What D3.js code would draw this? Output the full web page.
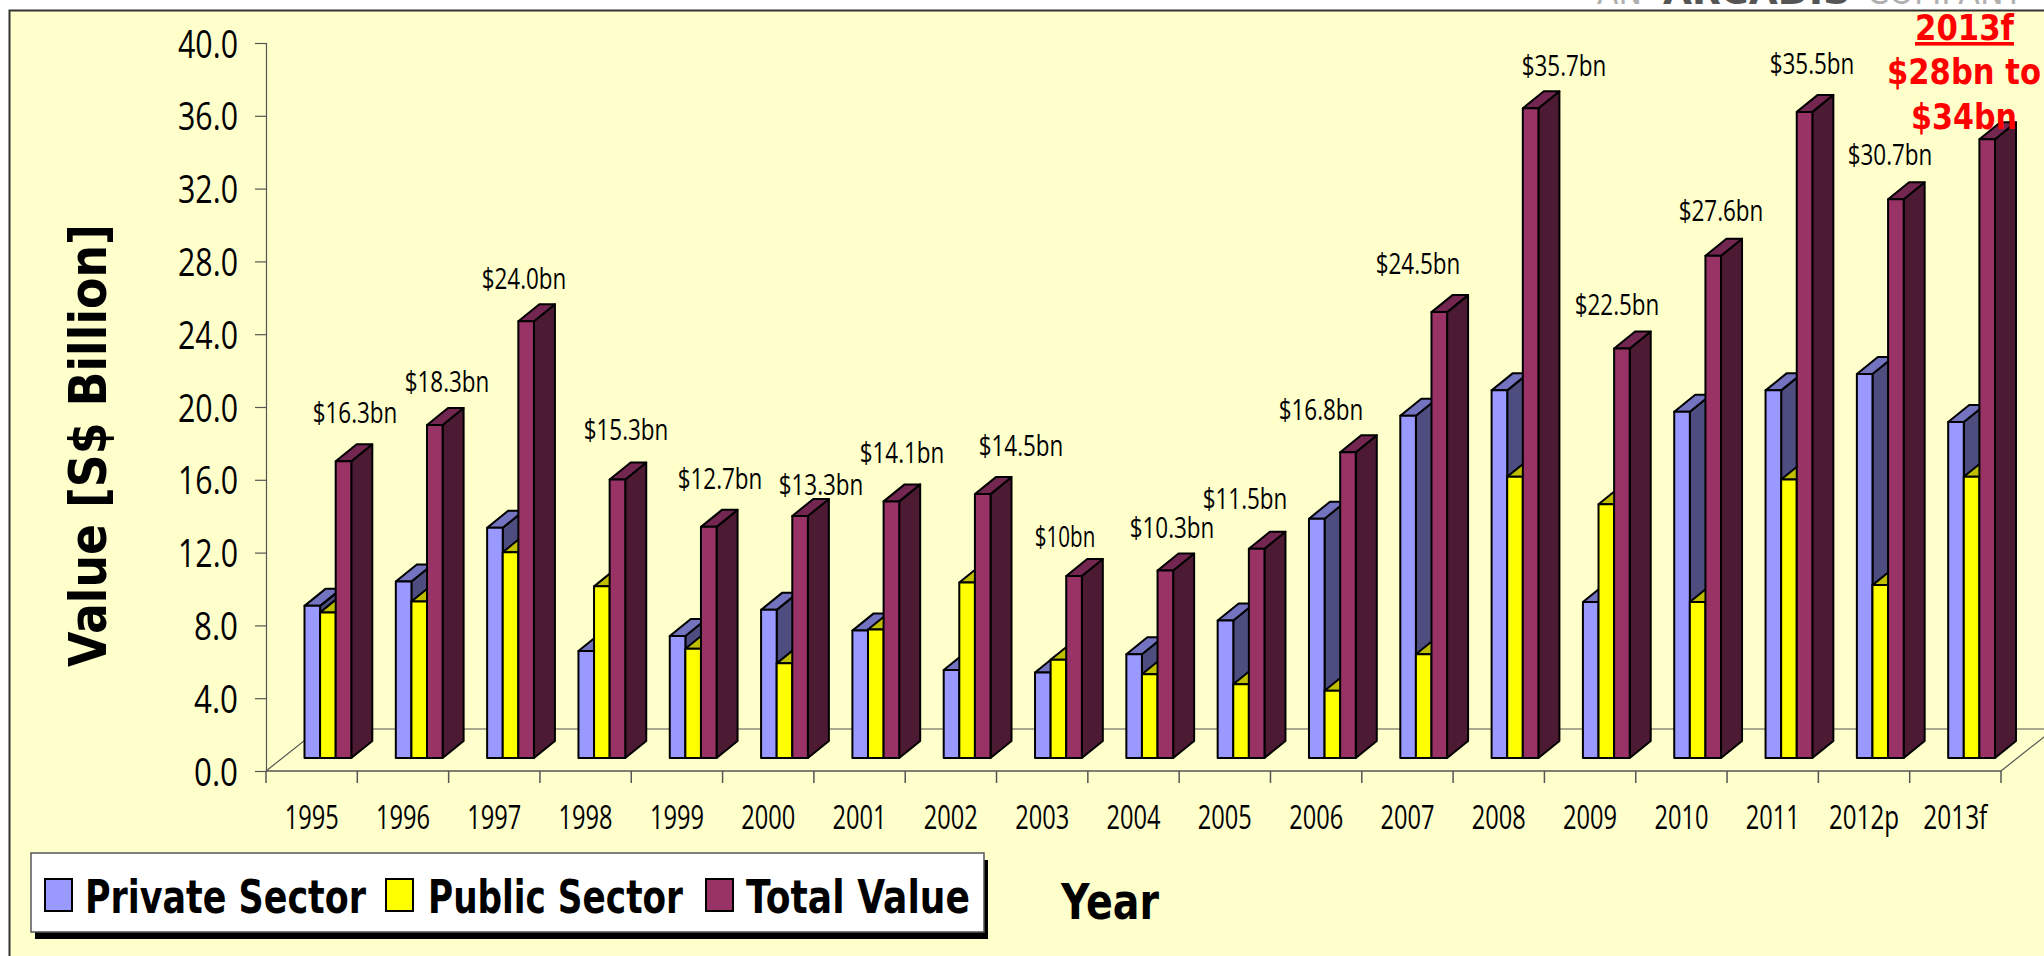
<!DOCTYPE html>
<html><head><meta charset="utf-8">
<style>html,body{margin:0;padding:0;background:#fff}svg{display:block}</style>
<script src="https://d3js.org/d3.v7.min.js"></script></head>
<body><svg id="c" width="2044" height="956"></svg>
<script>
const categories=["1995","1996","1997","1998","1999","2000","2001","2002","2003","2004","2005","2006","2007","2008","2009","2010","2011","2012p","2013f"];
const privateSector=[8.36,9.7,12.65,5.88,6.7,8.14,7.0,4.84,4.7,5.7,7.56,13.15,18.8,20.2,8.57,19.03,20.2,21.1,18.46];
const publicSector=[8.0,8.6,11.3,9.43,6.0,5.2,7.06,9.64,5.4,4.6,4.05,3.7,5.7,15.45,13.94,8.57,15.3,9.5,15.45];
const totalValue=[16.3,18.3,24.0,15.3,12.7,13.3,14.1,14.5,10,10.3,11.5,16.8,24.5,35.7,22.5,27.6,35.5,30.7,34];
const valueLabels=["$16.3bn","$18.3bn","$24.0bn","$15.3bn","$12.7bn","$13.3bn","$14.1bn","$14.5bn","$10bn","$10.3bn","$11.5bn","$16.8bn","$24.5bn","$35.7bn","$22.5bn","$27.6bn","$35.5bn","$30.7bn"];
const yTicks=[0,4,8,12,16,20,24,28,32,36,40];
const seriesNames=["Private Sector","Public Sector","Total Value"];

const labelCentres=[[355,412],[447,381],[524,278],[626,429],[720,478],[821,484],[902,452],[1021,445],[1065,536],[1172,527],[1245,498],[1321,409],[1418,263],[1564,65],[1617,304],[1721,210],[1812,63],[1890,154]];
const svg=d3.select("#c");
const FONT="'Open Sans','Noto Sans',sans-serif", BOLD="'DejaVu Sans',sans-serif";
const x=d3.scaleBand().domain(categories).range([266,2001]);
const y=d3.scaleLinear().domain([0,40]).range([771,43]);
const colors=[{f:"#9999FF",s:"#4D4D80",t:"#7373BF"},{f:"#FFFF00",s:"#808000",t:"#BFBF00"},{f:"#993366",s:"#4D1A33",t:"#732650"}];
const series=[privateSector,publicSector,totalValue];

svg.append("rect").attr("width",2044).attr("height",956).attr("fill","#fff");
const fit=(t,w)=>t.attr("textLength",w).attr("lengthAdjust","spacingAndGlyphs");
const logo=svg.append("g").attr("font-family",BOLD).attr("font-size",34).attr("fill","#b0b0b0");
fit(logo.append("text").attr("x",1597).attr("y",4).text("AN"),45);
fit(logo.append("text").attr("x",1663).attr("y",4).attr("fill","#555").attr("font-weight","bold").text("ARCADIS"),187);
fit(logo.append("text").attr("x",1867).attr("y",4).text("COMPANY"),156);
svg.append("rect").attr("x",9.5).attr("y",10.5).attr("width",2040).attr("height",950).attr("fill","#FFFFCC").attr("stroke","#333").attr("stroke-width",2);

const plot=svg.append("g");
// floor
const floorDX=53,floorDY=42,axisColor="#555";
plot.append("path").attr("fill","none").attr("stroke",axisColor).attr("stroke-width",1.2)
 .attr("d",`M${x.range()[0]},${y(0)}L${x.range()[0]+floorDX},${y(0)-floorDY}L${x.range()[1]+floorDX},${y(0)-floorDY}L${x.range()[1]},${y(0)}`);

// axes
const yAxis=d3.axisLeft(y).tickValues(yTicks).tickSize(11).tickPadding(17).tickFormat(d3.format(".1f"));
const gy=plot.append("g").attr("transform","translate(266,0)").call(yAxis);
gy.selectAll("path,line").attr("stroke",axisColor).attr("stroke-width",1.2);
gy.selectAll("text").attr("font-family",FONT).attr("font-size",39).attr("fill","#000").attr("dy",14)
  .each(function(d){fit(d3.select(this),d<10?44:60)});
const xTickScale=d3.scaleLinear().domain([0,categories.length]).range(x.range());
plot.append("g").selectAll("line").data(d3.range(categories.length+1)).join("line")
 .attr("x1",d=>xTickScale(d)).attr("x2",d=>xTickScale(d)).attr("y1",y(0)).attr("y2",y(0)+12)
 .attr("stroke",axisColor).attr("stroke-width",1.5);
plot.append("line").attr("x1",x.range()[0]).attr("x2",x.range()[1]).attr("y1",y(0)).attr("y2",y(0)).attr("stroke",axisColor).attr("stroke-width",1.5);
plot.append("g").selectAll("text").data(categories).join("text")
 .attr("x",d=>x(d)+x.bandwidth()/2).attr("y",829).attr("text-anchor","middle")
 .attr("font-family",FONT).attr("font-size",32).attr("fill","#000").text(d=>d)
 .each(function(d){fit(d3.select(this),d.length>4?(d.endsWith("p")?70:64):54)});

// bars
const barStart=38.5,barW=15.6,dX=21,dY=17,baseShift=13;
const bars=plot.append("g").attr("stroke","#000").attr("stroke-width",2).attr("stroke-linejoin","round");
categories.forEach((c,i)=>{
  series.forEach((vals,k)=>{
    const x0=x(c)+barStart+k*barW,x1=x0+barW,yT=y(vals[i])-baseShift,yB=y(0)-baseShift,col=colors[k];
    bars.append("path").attr("fill",col.s).attr("d",`M${x1},${yT}L${x1+dX},${yT-dY}L${x1+dX},${yB-dY}L${x1},${yB}Z`);
    bars.append("path").attr("fill",col.t).attr("d",`M${x0},${yT}L${x0+dX},${yT-dY}L${x1+dX},${yT-dY}L${x1},${yT}Z`);
    bars.append("rect").attr("fill",col.f).attr("x",x0).attr("y",yT).attr("width",barW).attr("height",yB-yT);
  });
});

// value labels
plot.append("g").selectAll("text").data(valueLabels).join("text")
 .attr("x",(d,i)=>labelCentres[i][0]).attr("y",(d,i)=>labelCentres[i][1]+11).attr("text-anchor","middle")
 .attr("font-family",FONT).attr("font-size",29).attr("fill","#000").text(d=>d)
 .each(function(d){fit(d3.select(this),d.length*12.1)});

// axis titles
fit(svg.append("text").attr("transform","translate(106,667) rotate(-90)").attr("font-family",BOLD).attr("font-weight","bold").attr("font-size",52).attr("fill","#000").text("Value [S$ Billion]"),443);
fit(svg.append("text").attr("x",1061).attr("y",919).attr("font-family",BOLD).attr("font-weight","bold").attr("font-size",50).attr("fill","#000").text("Year"),98);

// legend
svg.append("rect").attr("x",35).attr("y",860).attr("width",953).attr("height",79).attr("fill","#000");
svg.append("rect").attr("x",31).attr("y",853).attr("width",953).attr("height",79).attr("fill","#fff").attr("stroke","#555").attr("stroke-width",1.5);
const legendX=[[45,85,281],[386,428,255],[706,746,224]];
seriesNames.forEach((n,k)=>{
  svg.append("rect").attr("x",legendX[k][0]).attr("y",879).attr("width",27).attr("height",32).attr("fill",colors[k].f).attr("stroke","#000").attr("stroke-width",2);
  fit(svg.append("text").attr("x",legendX[k][1]).attr("y",913).attr("font-family",BOLD).attr("font-weight","bold").attr("font-size",47).attr("fill","#000").text(n),legendX[k][2]);
});

// forecast note
const note=svg.append("g").attr("font-family",BOLD).attr("font-weight","bold").attr("fill","#FF0000").attr("font-size",36);
fit(note.append("text").attr("x",1915).attr("y",40).attr("text-decoration","underline").text("2013f"),99);
fit(note.append("text").attr("x",1887).attr("y",84).text("$28bn to"),154);
fit(note.append("text").attr("x",1911).attr("y",129).text("$34bn"),106);
</script></body></html>
